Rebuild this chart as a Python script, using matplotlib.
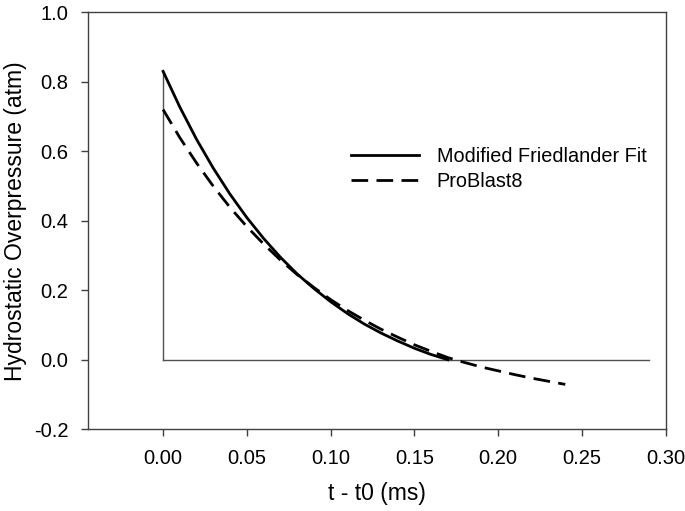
import numpy as np
import matplotlib
matplotlib.use("Agg")
import matplotlib.pyplot as plt

plt.rcParams['font.family'] = ['Liberation Sans', 'DejaVu Sans']

# Modified Friedlander fit (solid)
t_fit = [0.00, 0.01, 0.02, 0.03, 0.04, 0.05, 0.06, 0.07, 0.08, 0.09,
         0.10, 0.11, 0.12, 0.13, 0.14, 0.15, 0.16, 0.17]
p_fit = [0.830, 0.727, 0.634, 0.551, 0.476, 0.409, 0.349, 0.295, 0.247, 0.205,
         0.167, 0.133, 0.103, 0.077, 0.054, 0.033, 0.015, 0.000]

# ProBlast8 (dashed)
t_pb = [0.00, 0.01, 0.02, 0.03, 0.04, 0.05, 0.06, 0.07, 0.08, 0.09,
        0.10, 0.11, 0.12, 0.13, 0.14, 0.15, 0.16, 0.17, 0.18, 0.19,
        0.20, 0.21, 0.22, 0.23, 0.24]
p_pb = [0.720, 0.639, 0.566, 0.499, 0.438, 0.383, 0.333, 0.287, 0.245, 0.208,
        0.173, 0.142, 0.114, 0.088, 0.065, 0.043, 0.024, 0.006, -0.008, -0.021,
        -0.032, -0.043, -0.053, -0.062, -0.071]

xticks = [0.00, 0.05, 0.10, 0.15, 0.20, 0.25, 0.30]
yticks = [-0.2, 0.0, 0.2, 0.4, 0.6, 0.8, 1.0]

fig = plt.figure(figsize=(6.85, 5.11), dpi=100, facecolor="white")
ax = fig.add_axes([0.128, 0.160, 0.844, 0.816])

frame = '#404040'
# reference lines at t=0 and p=0
ax.plot([0.0, 0.0], [0.0, p_fit[0]], color='#505050', lw=1.0, zorder=1)
ax.plot([0.0, 0.29], [0.0, 0.0], color='#505050', lw=1.0, zorder=1)

ax.plot(t_fit, p_fit, color='black', lw=2.0, label='Modified Friedlander Fit')
ax.plot(t_pb, p_pb, color='black', lw=2.0, linestyle=(0, (6, 3)), label='ProBlast8')

ax.set_xlim(-0.045, 0.30)
ax.set_ylim(-0.2, 1.0)
ax.set_xticks(xticks)
ax.set_yticks(yticks)
ax.set_xticklabels(['%.2f' % v for v in xticks])
ax.set_yticklabels(['%.1f' % v for v in yticks])

for s in ax.spines.values():
    s.set_color(frame)
    s.set_linewidth(1.0)
ax.tick_params(direction='out', length=5, width=1.0, color=frame,
               labelsize=14.5, pad=9, top=False, right=False)

ax.set_xlabel('t - t0 (ms)', fontsize=16.5, labelpad=10)
ax.set_ylabel('Hydrostatic Overpressure (atm)', fontsize=16.5, labelpad=5)

leg = ax.legend(loc='upper left', bbox_to_anchor=(0.425, 0.72), frameon=False,
                fontsize=14.3, handlelength=3.4, handletextpad=0.9, labelspacing=0.3)

plt.savefig("out.png", dpi=100)
